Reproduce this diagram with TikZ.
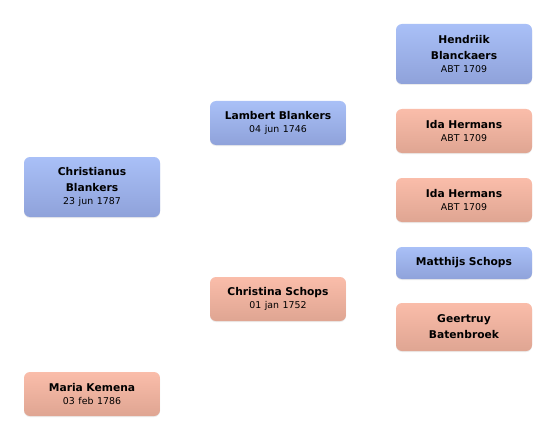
\documentclass[tikz,border=0pt]{standalone}
\usepackage{fontspec}
\setmainfont{DejaVu Sans}
\usetikzlibrary{shadows}
\definecolor{bluetop}{HTML}{A9C0F7}
\definecolor{bluebot}{HTML}{8FA2DA}
\definecolor{salmtop}{HTML}{FABDAA}
\definecolor{salmbot}{HTML}{DFA592}
\tikzset{
  person/.style={rounded corners=6pt, minimum width=136pt, text width=132pt, align=center, inner sep=0pt,
    draw=none, font=\fontsize{10.7}{16}\selectfont\bfseries,
    drop shadow={shadow xshift=0pt, shadow yshift=-1pt, opacity=0.15}},
  male/.style={person, top color=bluetop, bottom color=bluebot},
  female/.style={person, top color=salmtop, bottom color=salmbot},
}
\newcommand{\dt}[1]{\\[-3pt]{\fontsize{9.4}{11}\selectfont\mdseries #1}}
\begin{document}
\begin{tikzpicture}[x=1pt,y=-1pt]
\useasboundingbox[fill=white] (0,0) rectangle (556,441);
\node[male, minimum height=60pt] (chr) at (92,187) {Christianus\\Blankers\dt{23 jun 1787}};
\node[female, minimum height=44pt] (mar) at (92,394) {Maria Kemena\dt{03 feb 1786}};
\node[male, minimum height=44pt] (lam) at (278,123) {Lambert Blankers\dt{04 jun 1746}};
\node[female, minimum height=44pt] (cs) at (278,299) {Christina Schops\dt{01 jan 1752}};
\node[male, minimum height=60pt] (hen) at (464,54) {Hendriik\\Blanckaers\dt{ABT 1709}};
\node[female, minimum height=44pt] (ida1) at (464,131) {Ida Hermans\dt{ABT 1709}};
\node[female, minimum height=44pt] (ida2) at (464,200) {Ida Hermans\dt{ABT 1709}};
\node[male, minimum height=32pt] (mat) at (464,263) {Matthijs Schops};
\node[female, minimum height=48pt] (gee) at (464,327) {Geertruy\\Batenbroek};
\end{tikzpicture}
\end{document}
